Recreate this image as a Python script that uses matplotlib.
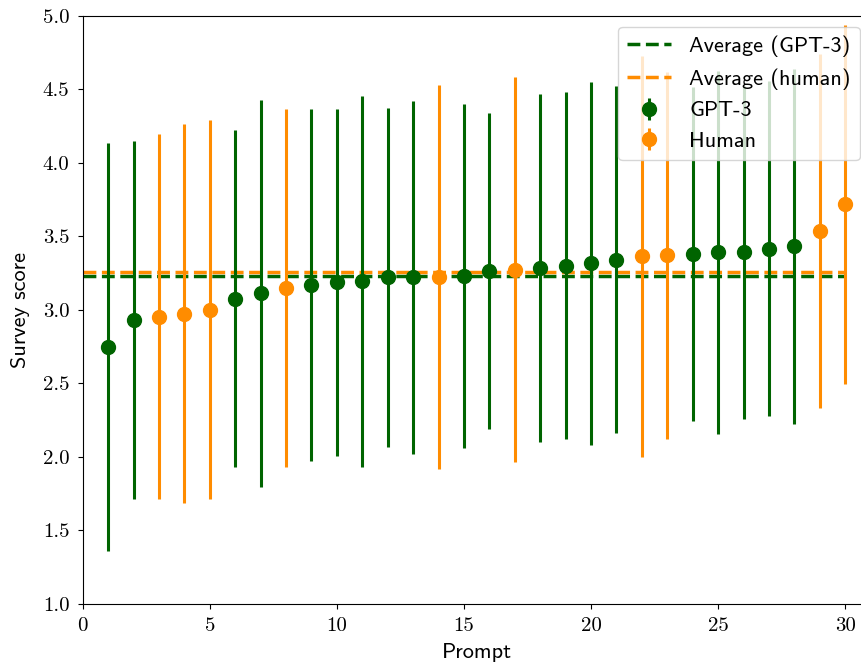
import matplotlib
matplotlib.use('Agg')
from matplotlib import pyplot as plt
import numpy as np

#####

gpt3_prompt = [1, 2, 6, 7, 9, 10, 11, 12, 13, 15, 16, 18, 19, 20, 21, 24, 25, 26, 27, 28]
gpt3_mean = [2.747, 2.929, 3.077, 3.111, 3.170, 3.188, 3.195, 3.220, 3.220, 3.231,
             3.265, 3.283, 3.301, 3.317, 3.340, 3.379, 3.390, 3.390, 3.415, 3.433]
gpt3_std = [1.39, 1.217, 1.144, 1.318, 1.197, 1.18, 1.262, 1.15, 1.197, 1.17,
            1.073, 1.183, 1.18, 1.233, 1.18, 1.134, 1.233, 1.13, 1.138, 1.206]

human_prompt = [3, 4, 5, 8, 14, 17, 22, 23, 29, 30]
human_mean = [2.954, 2.975, 3.002, 3.145, 3.224, 3.272, 3.363, 3.370, 3.535, 3.719]
human_std = [1.24, 1.285, 1.29, 1.217, 1.305, 1.308, 1.365, 1.245, 1.203, 1.22]

#####

green = 'darkgreen'
orange = 'darkorange'
fs = 16
plt.rcParams['font.size'] = fs

fig = plt.figure(figsize=(8.62, 6.72), dpi=100)
ax = fig.add_axes([0.0959, 0.1012, 0.9142, 0.8755])

ax.hlines(np.mean(gpt3_mean), 0, 30, colors=green, linestyles='dashed', linewidth=2.5,
          label='Average (GPT-3)')
ax.hlines(np.mean(human_mean), 0, 30, colors=orange, linestyles='dashed', linewidth=2.5,
          label='Average (human)')

ax.errorbar(gpt3_prompt, gpt3_mean, yerr=gpt3_std, fmt='o', color=green, ms=10,
            elinewidth=2.2, label='GPT-3')
ax.errorbar(human_prompt, human_mean, yerr=human_std, fmt='o', color=orange, ms=10,
            elinewidth=2.2, label='Human')

ax.set_xlim(0, 31)
ax.set_ylim(1.0, 5.0)
ax.set_xticks([0, 5, 10, 15, 20, 25, 30])
ax.set_yticks(np.arange(1.0, 5.01, 0.5))
ax.tick_params(labelfontfamily='cmr10', labelsize=15, pad=6)

ax.set_xlabel('Prompt', fontfamily='cmss10', fontsize=fs, labelpad=6)
ax.set_ylabel('Survey score', fontfamily='cmss10', fontsize=fs, labelpad=9)

ax.legend(loc='upper right', prop={'family': 'cmss10', 'size': fs})

fig.savefig('out.png', dpi=100)
